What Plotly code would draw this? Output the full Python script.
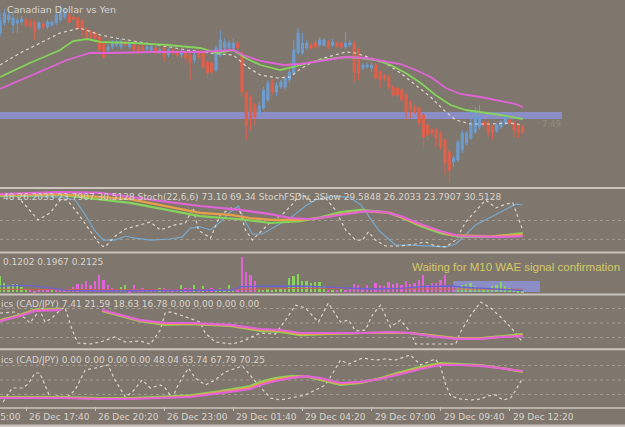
import plotly.graph_objects as go

# ---------------- data ----------------
time_ticks = [0, 16, 32, 48, 64, 80, 96, 112, 128]
time_labels = ["26 Dec 15:00", "26 Dec 17:40", "26 Dec 20:20", "26 Dec 23:00",
               "29 Dec 01:40", "29 Dec 04:20", "29 Dec 07:00", "29 Dec 09:40", "29 Dec 12:20"]

bars = list(range(10, 132))
opens = [157,167,170,165,167,168,170,168,168,162,
         166,163,165,167,170,173,175,173,172,169,
         160,158,157,153,147,140,143,145,143,148,
         143,145,143,143,141,140,142,138,142,135,
         140,138,135,137,135,130,138,137,128,127,
         120,135,142,142,142,147,137,97,93,85,
         75,82,90,108,98,103,103,110,117,137,
         137,142,145,147,145,145,148,145,147,147,
         143,145,147,140,122,123,122,125,118,114,
         113,103,102,100,95,87,83,82,75,65,
         60,60,57,50,38,28,30,40,47,52,
         58,63,68,67,63,59,63,67,70,67,
         65,63]
closes = [170,177,175,172,170,171,165,164,158,167,
          163,168,168,175,177,178,168,171,162,160,
          152,153,152,140,133,143,147,148,148,145,
          147,140,138,140,143,143,137,140,133,140,
          137,135,138,132,128,135,133,123,117,118,
          142,150,148,147,147,142,98,65,70,73,
          84,100,107,98,105,108,112,118,140,157,
          147,147,142,143,150,150,143,148,144,143,
          147,147,118,117,125,125,125,112,110,111,
          103,95,95,90,78,80,78,67,53,55,
          57,52,43,27,20,32,48,57,57,67,
          77,73,65,58,57,65,68,75,67,60,
          58,58]
highs = [177,181,179,178,173,174,172,171,170,169,
         168,171,170,177,185,181,178,176,174,171,
         162,160,159,155,149,146,150,150,151,150,
         149,147,145,146,146,146,144,142,144,142,
         142,140,140,139,137,137,140,139,130,129,
         145,160,152,150,152,149,139,100,95,87,
         88,103,110,111,108,110,114,120,150,162,
         157,150,148,150,153,152,150,151,149,149,
         158,150,149,142,127,128,127,127,120,116,
         115,105,104,102,97,90,85,84,77,67,
         62,62,59,52,40,34,50,60,59,78,
         83,85,70,69,65,67,70,78,72,69,
         67,65]
lows = [153,164,167,157,157,165,163,162,150,160,
        161,161,163,165,168,171,166,169,160,153,
        150,151,150,137,131,138,141,143,141,143,
        141,138,136,138,139,138,135,136,128,133,
        135,133,132,125,110,127,131,122,112,115,
        118,133,140,140,140,140,93,50,60,65,
        72,80,88,95,94,101,100,108,115,135,
        135,140,140,141,143,143,141,143,142,141,
        141,143,108,110,120,121,118,110,102,109,
        100,93,92,88,70,72,76,63,43,50,
        53,43,40,15,8,23,28,37,45,50,
        56,60,63,53,50,57,61,65,65,53,
        52,56]

main_dash_k = [10,14.6,19.3,23.9,28.5,33.2,35.5,42.4,48.7,53.3,58.7,64,67.2,70.3,74.2,77.2,79.5,81.9,84.2,90,
               92.3,95.8,99.2,102.7,106.2,109.7,113.2,115.5,119,123.6,128.2,131]
main_dash_v = [125,137,147,157,162,155,153,148,143,140,137,135,123,115,112,113,121,127,131,138,
               137,132,127,117,105,93,78,70,66,66,67,65]
main_green_k = [10,16.9,23.9,26.9,30.2,33.2,40.9,48.7,56.3,60.3,64,66.8,70.3,74.9,77.9,84.2,90,93.5,96.9,100.4,
                103.9,107.4,110.8,114.3,117.8,121.3,125.9,131]
main_green_v = [113,127,140,149,151,148,147,145,142,137,140,132,125,120,123,130,133,132,130,125,
                117,107,95,85,80,78,75,71]
main_mag_k = [10,17.6,25.5,30.8,35.5,44.8,56.3,64,66.3,70.3,75.6,79.5,84.2,90,94.6,99.2,102.7,106.2,109.7,113.2,
              116.6,121.3,125.9,129.4,131]
main_mag_v = [101,115,130,137,137,138,138,140,135,129,125,126,129,133,132,129,126,120,113,102,
              96,93,89,86,83]
zone_k = [9.9, 140.1]
zone_v = [71, 78]
zone_label = "7.49"

st_blue_k = [10,23.9,27.4,29.7,32,33.9,36.6,39,41.3,44.8,49.4,52.2,54,56.3,58.7,61,63.3,65.2,66.3,68.4,
             70.7,73.7,77.2,80.7,83,87.6,91.1,93.5,95.8,97.6,99.2,101.6,105,109.7,113.2,115.5,117.8,120.1,123.6,127.1,
             129.4,131]
st_blue_v = [89,87,82.5,59,33,19,19,25,22,19,20.6,24,38,40,35,47.6,63.5,73,54,28.6,
             28.6,40,54,73,82.5,89,86,74.6,52,35,25,11,11,9.5,8,12.7,27,43,55.5,68,
             76,74.6]
st_dash_k = [10,13.5,15.8,18.8,21.6,23.9,25.5,27.4,30.4,33.2,34.3,36.6,39,42.4,44.8,47.1,50.5,52.9,54.7,55.9,
             58.7,61,63.8,65.6,66.8,68.4,70.7,72.6,75.4,77.7,79.5,81.9,85.3,87.6,90,92.3,93.9,95.3,96.9,99.2,
             102.7,106.2,108.5,110.8,113.2,115.5,117.8,120.8,122.4,124.8,127.1,128.7,130.1,131]
st_dash_v = [89,92,74.6,51,62,82.5,82.5,67,38,11,8,25,36.5,43,47.6,35,43,46,70,35,
             22,59,71,63.5,35,19,35,47.6,60,76,92,82.5,86,67,35,19,19,32,19,9.5,
             9.5,12.7,16,9.5,8,19,47.6,71,82.5,70,76,78,51,35]
st_mag_k = [10,16.9,23.9,33.2,40.1,47.1,56.3,65.6,72.6,77.2,81.9,86.5,91.1,94.6,99.2,102.7,107.4,112,116.6,121.3,125.9,131]
st_mag_v = [92,94,95,94,87,81,73,67,60,54,52,57,62,65,63.5,57,44,33,25,24,24,25]
st_org_k = [10,23.9,40.1,56.3,63.3,67.9,72.6,79.5,84.2,88.8,94.6,100.4,107.4,114.3,123.6,131]
st_org_v = [90.5,92,84,62,59,54,51,51,54,60,65,62,43,27,25,28]
st_grn_k = [10,23.9,40.1,56.3,65.6,72.6,79.5,84.2,88.8,93.5,99.2,102.7,107.4,112,116.6,123.6,131]
st_grn_v = [89,90.5,78,57,52,46,49,55,63.5,67,63.5,55.5,41,30,24,24,30]

wae_trend = [16,9,7,8,8,5,3,-2,-1,-3,
             -2,-2,2,-2,-3,-2,-3,-5,-8,-8,
             -11,-7,-11,-17,-12,-7,-4,-3,5,7,
             -1,-7,-3,-4,-2,-2,-2,4,-4,-3,
             -2,-3,7,-4,-4,7,-3,6,-3,-4,
             3,4,3,7,3,-2,-35,-20,-17,-11,
             3,2,3,2,3,4,3,14,16,18,
             11,11,9,10,10,6,-2,2,-2,3,
             -2,-3,-8,-7,-4,-7,-4,-9,-7,-6,
             -10,-8,-9,-7,-11,-8,-9,-12,-17,-7,
             -9,-9,-12,-17,-7,-6,5,7,8,9,
             6,4,4,3,6,7,10,6,4,2,
             1,1]
wae_blue_k = [10,13.5,17.7,21.6,25.5,33.2,40.9,48.7,64,65.6,71.8,79.5,87.2,95,102.7,107.4,114.3,116.6,122.2,127.6,131]
wae_blue_v = [6,7,6.5,4,2,1.3,1.5,1.3,2.3,5.7,5.7,6.3,5,3.3,4,5.7,6.3,5.3,4,2.3,1.7]
wae_red_k = [10,40,66,80,100,131]
wae_red_v = [3,2.5,3,4,3.5,3]
wae_zone_k = [114.9, 135.0]
wae_zone_v = [0.3, 11.3]

p4_k = [10,14.6,18.1,21.6,24.3,29,33.6,37.8,42.4,48.2,54,63.3,70.3,74.9,79.5,86.5,93.5,100.4,105,109.7,115.5,121.3,125.9,131]
p4_mag_v = [54,64.5,75,77,77,None,77,66.6,56,50,50,46,37.6,35.5,29.3,29.3,29.3,31.4,29.3,23,17,17,21,23]
p4_org_v = [55,66,76.5,78.5,78.5,None,76,65.5,55,48,48.8,45,35.5,33.4,27,28.2,29.3,30.3,29.3,24,18,18,22,25]
p4_grn_v = [56,67,78,80,80,None,75,64.5,54,46,47.6,44,33.4,31.4,25,27.2,29.3,29.3,29.3,25,19,19,23,27]
p4_dash_k = [10,13.5,15.8,16.9,19.2,20.4,22,23.9,25,26.7,28,30.8,33.2,36.6,39,42.4,44.8,47.1,48.2,49.4,
             51.7,56.3,57.5,59.8,63.8,66.8,70.3,73.7,76.1,78.4,80.7,83.7,86,88.8,90.7,92.3,94.6,96.2,98.1,100.4,
             102.7,105,106.2,112,115.5,116.6,119,121.3,123.6,125.9,128.2,130.6,131]
p4_dash_v = [70.7,72.8,60,50,77,52,60,77,83,35.5,8.6,6.5,10.7,21,10.7,12.7,6.5,35.5,70.7,72.8,
             66.6,52,29.3,10.7,6.5,14.8,29.3,27.2,56,87,81,52,91.4,52,56,33.4,35.5,66.6,87,41.7,
             56,31.4,6.5,6.5,6.5,31.4,66.6,93.5,81,62.4,41.7,14.8,10.7]

p5_k = [10,23.9,33.2,40.1,47.1,54,61,67.9,70.3,73.7,77.2,80.7,84.2,88.8,93.5,98.1,102.7,107.4,112,116.6,121.3,125.9,131]
p5_mag_v = [12.7,12.7,10.7,10.7,12.7,14.8,23,31.4,39.7,48,54,58,54,43.8,46,52,62,72.8,81,81,79,74.8,68.6]
p5_org_v = [13.7,13.7,11.7,11.7,13.8,16.4,25,34.5,42.8,51,56,58,52,41.8,45,53,64.3,74.9,83,82,80,74.8,67.6]
p5_grn_v = [14.8,14.8,12.7,12.7,15,18,27,37.6,46,54,58,58,50,39.7,44,54,66.6,77,85,83,81,74.8,66.6]
p5_dash_k = [10.7,12.8,15.1,16.5,18.1,19.2,20.4,21.6,23.4,25.5,27.4,29.7,32,35,36.6,39,40.6,42.9,44.8,47.1,
             48.2,49.9,51.2,53.6,55.2,57.5,59.8,62.1,66.1,67.9,69.8,72.6,74.9,77.2,80.7,83,85.3,87.2,88.8,90.7,
             92.3,93.9,96.9,99.2,101.6,103.9,105,107.4,109.7,110.8,112,113.2,114.3,116.6,119,121.3,122.9,124.8,126.4,128.2,
             129.4,131]
p5_dash_v = [4.5,33.4,33.4,41.7,64.5,64.5,39.7,12.7,17,14.8,29.3,70.7,74.8,81,50,14.8,25,50,33.4,39.7,
             33.4,12.7,39.7,74.8,54,39.7,50,66.6,79,60,39.7,12.7,8.6,12.7,19,29.3,39.7,66.6,91.4,83,
             89.3,95.5,91.4,93.5,91.4,97.6,101.8,81,89.3,93.5,77,39.7,17,10.7,8.6,10.7,17,19,8.6,12.7,
             29.3,54]

title_text = "Canadian Dollar vs Yen"
stoch_text = "48 26.2033 23.7907 30.5128 Stoch(22,6,6) 73.10 69.34 StochFSDiv_3Slow 29.5848 26.2033 23.7907 30.5128"
wae_text = "0.1202 0.1967 0.2125"
wae_msg = "Waiting for M10 WAE signal confirmation"
p4_text = "ics (CAD/JPY) 7.41 21.59 18.63 16.78 0.00 0.00 0.00 0.00"
p5_text = "ics (CAD/JPY) 0.00 0.00 0.00 0.00 48.04 63.74 67.79 70.25"

# ---------------- style ----------------
W, H = 625, 427
BG = "#7f776d"
SEP = "#cac4bd"
TXT = "#d9d3cc"
GRID = "#a39b92"
BLUE_C = "#6e9ccf"
RED_C = "#e0604b"
GREEN = "#84d35a"
MAG = "#e263d9"
ORANGE = "#e8a048"
DASHC = "#ddd6ce"
STBLUE = "#76a9cf"
ZONE = "#8a8dc6"
FONT = "DejaVu Sans"

def py(px):
    return 1 - px / H

fig = go.Figure()

# main panel
fig.add_trace(go.Candlestick(
    x=bars, open=opens, high=highs, low=lows, close=closes, xaxis="x", yaxis="y",
    increasing=dict(line=dict(color=BLUE_C, width=1), fillcolor=BLUE_C),
    decreasing=dict(line=dict(color=RED_C, width=1), fillcolor=RED_C),
    whiskerwidth=0, showlegend=False, hoverinfo="skip"))

def line(k, v, color, width, yaxis, dash=None):
    fig.add_trace(go.Scatter(x=k, y=v, mode="lines", xaxis="x", yaxis=yaxis,
                             line=dict(color=color, width=width, dash=dash),
                             showlegend=False, hoverinfo="skip", connectgaps=False))

line(main_dash_k, main_dash_v, DASHC, 1.2, "y", "3px,3px")
line(main_green_k, main_green_v, GREEN, 1.8, "y")
line(main_mag_k, main_mag_v, MAG, 1.8, "y")

# stochastic panel
line(st_blue_k, st_blue_v, STBLUE, 1.2, "y2")
line(st_dash_k, st_dash_v, DASHC, 1.2, "y2", "3px,3px")
line(st_grn_k, st_grn_v, GREEN, 2.2, "y2")
line(st_org_k, st_org_v, ORANGE, 2.2, "y2")
line(st_mag_k, st_mag_v, MAG, 2.2, "y2")

# WAE panel
fig.add_trace(go.Bar(x=bars, y=[abs(v) for v in wae_trend], xaxis="x", yaxis="y3",
                     marker=dict(color=[GREEN if v > 0 else MAG for v in wae_trend], line=dict(width=0)),
                     width=0.42, showlegend=False, hoverinfo="skip"))
line(wae_red_k, wae_red_v, "#c8604c", 1, "y3")
line(wae_blue_k, wae_blue_v, "#6a62d8", 1.3, "y3")

# panel 4
line(p4_dash_k, p4_dash_v, DASHC, 1.2, "y4", "3px,3px")
line(p4_k, p4_grn_v, GREEN, 2.2, "y4")
line(p4_k, p4_org_v, ORANGE, 2.2, "y4")
line(p4_k, p4_mag_v, MAG, 2.2, "y4")

# panel 5
line(p5_dash_k, p5_dash_v, DASHC, 1.2, "y5", "3px,3px")
line(p5_k, p5_grn_v, GREEN, 2.2, "y5")
line(p5_k, p5_org_v, ORANGE, 2.2, "y5")
line(p5_k, p5_mag_v, MAG, 2.2, "y5")

# ---------------- layout ----------------
x0 = 43.1 / 4.319
x1 = (W + 43.1) / 4.319

def ydom(top_px, bot_px):
    return [py(bot_px), py(top_px)]

hidden = dict(visible=False, fixedrange=True)
fig.update_layout(
    width=W, height=H, margin=dict(l=0, r=0, t=0, b=0),
    paper_bgcolor=BG, plot_bgcolor=BG, bargap=0, showlegend=False,
    xaxis=dict(range=[x0, x1], anchor="y5", showgrid=False, zeroline=False, showline=False,
               tickvals=time_ticks, ticks="outside", ticklen=4, tickcolor=SEP, tickwidth=1,
               showticklabels=False, rangeslider=dict(visible=False), fixedrange=True),
    yaxis=dict(domain=ydom(0, 187), range=[3, 190], **hidden),
    yaxis2=dict(domain=ydom(189, 252), range=[0, 100], **hidden),
    yaxis3=dict(domain=ydom(254, 293), range=[-0.7, 38.3], **hidden),
    yaxis4=dict(domain=ydom(296, 348), range=[-1.75, 105.9], **hidden),
    yaxis5=dict(domain=ydom(350.5, 406), range=[-3.8, 111], **hidden),
)

shapes = []
# zones (behind marks)
shapes.append(dict(type="rect", xref="x", yref="y", x0=zone_k[0], x1=zone_k[1], y0=zone_v[0], y1=zone_v[1],
                   fillcolor=ZONE, line=dict(width=0), layer="below"))
shapes.append(dict(type="rect", xref="x", yref="y3", x0=wae_zone_k[0], x1=wae_zone_k[1],
                   y0=wae_zone_v[0], y1=wae_zone_v[1], fillcolor=ZONE, line=dict(width=0), layer="below"))
# grid levels
for yref, levels in (("y2", [50, 20]), ("y4", [80, 50, 20]), ("y5", [80, 50, 20])):
    for lv in levels:
        shapes.append(dict(type="line", xref="paper", yref=yref, x0=0, x1=1, y0=lv, y1=lv,
                           line=dict(color=GRID, width=1, dash="3px,3px"), layer="below"))
# panel separators
for px, wdt in ((188, 2), (252.5, 2), (294.5, 2), (349.2, 2), (408, 1.5), (425.8, 2.5)):
    shapes.append(dict(type="line", xref="paper", yref="paper", x0=0, x1=1, y0=py(px), y1=py(px),
                       line=dict(color=SEP, width=wdt)))
fig.update_layout(shapes=shapes)

ann = []
def txt(text, xpx, ypx, size=9, color=TXT, family=FONT):
    ann.append(dict(text=text, xref="paper", yref="paper", x=xpx / W, y=py(ypx), xanchor="left",
                    yanchor="middle", showarrow=False, font=dict(family=family, size=size, color=color)))

txt(title_text, 5, 9, 9.5)
txt(stoch_text, 1, 197.5)
txt(wae_text, 1, 261.5)
txt(wae_msg, 410, 267, 11.5, "#d6c866", "Liberation Sans")
txt(p4_text, -1, 303.5)
txt(p5_text, -1, 360)
ann.append(dict(text=zone_label, xref="x", yref="y", x=137.6, y=66, xanchor="center", yanchor="middle",
                showarrow=False, font=dict(family=FONT, size=8.5, color="#928f7e")))
# time labels: placed in paper space at the x-axis position of each tick (left-aligned, MT4 style)
for k, lab in zip(time_ticks, time_labels):
    xp = (k - x0) / (x1 - x0)
    ann.append(dict(text=lab, xref="paper", yref="paper", x=xp, y=py(416.5), xanchor="left", yanchor="middle",
                    xshift=1, showarrow=False, font=dict(family=FONT, size=9, color=TXT)))
fig.update_layout(annotations=ann)

fig.write_html("out.html")
